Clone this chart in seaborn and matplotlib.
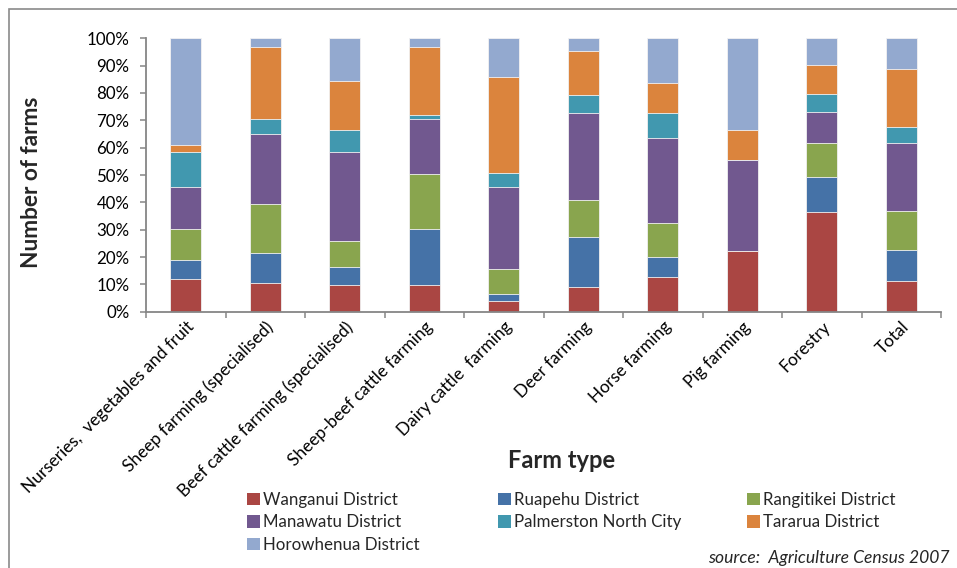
import numpy as np
import pandas as pd
import matplotlib
matplotlib.use("Agg")
import matplotlib.pyplot as plt
from matplotlib.patches import Rectangle, Patch
from matplotlib.ticker import PercentFormatter
import seaborn as sns

# Share of farms (%) per farm type, by district
farm_types = [
    "Nurseries,  vegetables and fruit",
    "Sheep farming (specialised)",
    "Beef cattle farming (specialised)",
    "Sheep-beef cattle farming",
    "Dairy cattle  farming",
    "Deer farming",
    "Horse farming",
    "Pig farming",
    "Forestry",
    "Total",
]
wanganui = [11.8, 10.4, 9.6, 9.6, 4.0, 8.9, 12.6, 22.2, 36.6, 11.3]
ruapehu = [7.0, 10.9, 6.6, 20.5, 2.5, 18.3, 7.3, 0.0, 12.5, 11.1]
rangitikei = [11.3, 18.1, 9.7, 20.3, 9.0, 13.5, 12.7, 0.0, 12.7, 14.3]
manawatu = [15.4, 25.5, 32.6, 20.0, 30.2, 31.9, 30.8, 33.3, 11.4, 25.1]
palmerston = [13.0, 5.7, 8.1, 1.4, 5.2, 6.8, 9.2, 0.0, 6.3, 5.6]
tararua = [2.5, 26.1, 17.7, 24.9, 34.8, 15.8, 10.9, 11.1, 10.9, 21.3]
horowhenua = [39.0, 3.3, 15.7, 3.3, 14.3, 4.8, 16.5, 33.4, 9.6, 11.3]

series_names = [
    "Wanganui District", "Ruapehu District", "Rangitikei District",
    "Manawatu District", "Palmerston North City", "Tararua District",
    "Horowhenua District",
]
series_values = [wanganui, ruapehu, rangitikei, manawatu, palmerston, tararua, horowhenua]
colors = ["#AA4643", "#4572A7", "#89A54E", "#71588F", "#4198AF", "#DB843D", "#93A9CF"]

FONT = "Lato"
sns.set_theme(style="white")
plt.rcParams["font.family"] = [FONT, "DejaVu Sans"]

fig = plt.figure(figsize=(9.57, 5.68), dpi=100)
ax = fig.add_axes([146 / 957, 1 - 311.7 / 568, (941 - 146) / 957, (311.7 - 38.3) / 568])

# stacked bars: draw cumulative totals from the top series down
vals = np.array(series_values)
cum = np.cumsum(vals, axis=0)
for i in range(len(series_names) - 1, -1, -1):
    df = pd.DataFrame({"farm": farm_types, "share": cum[i]})
    sns.barplot(data=df, x="farm", y="share", order=farm_types, color=colors[i],
                saturation=1, width=0.39, edgecolor="#f2f2f2", linewidth=0.6, ax=ax)

ax.set_xlim(-0.5, len(farm_types) - 0.5)
ax.set_ylim(0, 100)
ax.set_yticks(np.arange(0, 101, 10))
ax.yaxis.set_major_formatter(PercentFormatter(decimals=0))

axis_grey = "#868686"
for s in ["top", "right"]:
    ax.spines[s].set_visible(False)
for s in ["left", "bottom"]:
    ax.spines[s].set_color(axis_grey)
    ax.spines[s].set_linewidth(1.3)

ax.tick_params(axis="y", which="major", left=True, length=4, width=1.1, color=axis_grey,
               direction="out", pad=8, labelsize=12.2, labelcolor="black")
ax.set_xticks(np.arange(len(farm_types)))
ax.set_xticks(np.arange(-0.5, len(farm_types), 1.0), minor=True)
ax.tick_params(axis="x", which="major", length=0, pad=5, labelsize=12.4, labelcolor="black")
ax.tick_params(axis="x", which="minor", bottom=True, length=4, width=1.1, color=axis_grey,
               direction="out")
ax.set_xticklabels(farm_types, rotation=45, ha="right", va="top", rotation_mode="anchor")

ax.set_xlabel("")
ax.set_ylabel("")
fig.text(32 / 957, 1 - 182 / 568, "Number of farms", rotation=90, ha="center", va="center",
         fontsize=16.3, fontweight="bold")
fig.text(562 / 957, 1 - 461 / 568, "Farm type", ha="center", va="center",
         fontsize=17, fontweight="bold")

# legend in three columns
col_x = [247, 498, 747]
col_items = [[0, 3, 6], [1, 4], [2, 5]]
for cx, items in zip(col_x, col_items):
    handles = [Patch(facecolor=colors[k], edgecolor="none") for k in items]
    labels = [series_names[k] for k in items]
    fig.legend(handles, labels, loc="upper left", bbox_to_anchor=(cx / 957, 1 - 492 / 568),
               frameon=False, fontsize=12.2, handlelength=0.75, handleheight=0.75,
               handletextpad=0.2, labelspacing=0.38, borderaxespad=0, borderpad=0)

fig.text(950 / 957, 1 - 558 / 568, "source:  Agriculture Census 2007", ha="right", va="center",
         fontsize=12.6, style="italic")

# outer chart frame
fig.patches.append(Rectangle((9 / 957, -0.05), 1.1, 1 - 9 / 568 + 0.05, transform=fig.transFigure,
                             fill=False, edgecolor="#8a8a8a", linewidth=1.2))

fig.savefig("out.png", dpi=100)
